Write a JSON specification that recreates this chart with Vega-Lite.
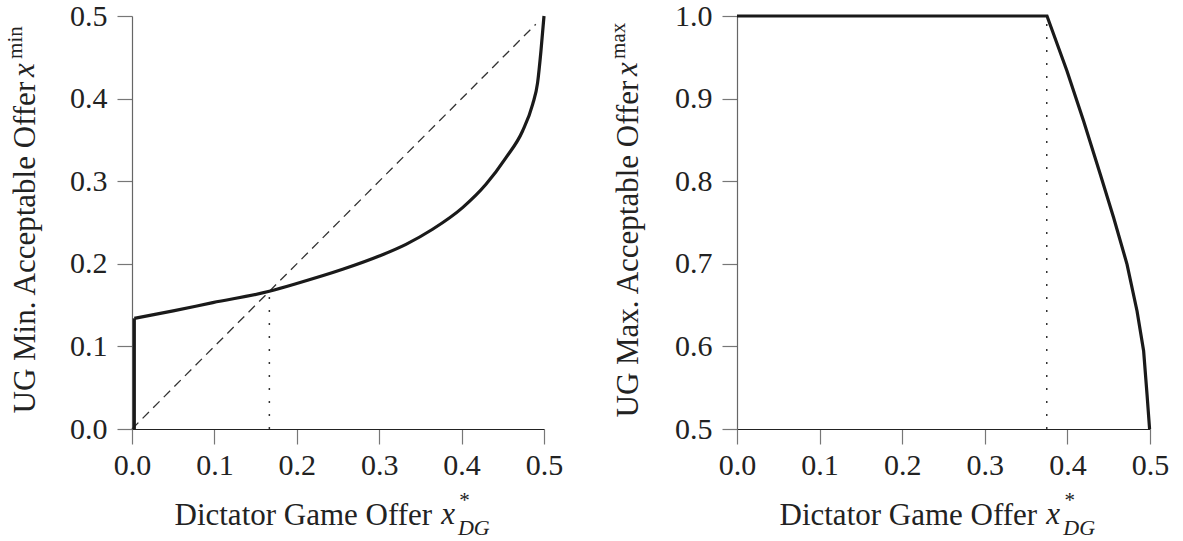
{
  "$schema": "https://vega.github.io/schema/vega-lite/v6.json",
  "background": "white",
  "padding": {"left": 5, "top": 1, "right": 0, "bottom": 0},
  "spacing": 45,
  "config": {
    "view": {"stroke": null},
    "axis": {
      "grid": false,
      "labelFont": "Liberation Serif",
      "labelFontSize": 30,
      "labelColor": "#222",
      "labelFlush": false,
      "labelOverlap": false,
      "labelBound": false,
      "titleFont": "Liberation Serif",
      "titleFontSize": 31,
      "titleFontWeight": "normal",
      "titleColor": "#222",
      "tickSize": 15,
      "tickColor": "#777",
      "tickWidth": 1.2,
      "domainWidth": 1.2
    },
    "axisX": {"labelPadding": 6, "domainColor": "#222"},
    "axisY": {"labelPadding": 10, "domainColor": "#666"}
  },
  "datasets": {
    "left_curve": [
      {"x": 0.0028, "y": 0.0, "s": "a"},
      {"x": 0.0028, "y": 0.134, "s": "a"},
      {"x": 0.0028, "y": 0.134, "s": "b"},
      {"x": 0.05, "y": 0.143, "s": "b"},
      {"x": 0.098, "y": 0.153, "s": "b"},
      {"x": 0.1667, "y": 0.1667, "s": "b"},
      {"x": 0.203, "y": 0.177, "s": "b"},
      {"x": 0.2556, "y": 0.1933, "s": "b"},
      {"x": 0.3, "y": 0.2094, "s": "b"},
      {"x": 0.3325, "y": 0.2236, "s": "b"},
      {"x": 0.3648, "y": 0.2418, "s": "b"},
      {"x": 0.4012, "y": 0.268, "s": "b"},
      {"x": 0.4296, "y": 0.2962, "s": "b"},
      {"x": 0.4539, "y": 0.3285, "s": "b"},
      {"x": 0.474, "y": 0.3608, "s": "b"},
      {"x": 0.4862, "y": 0.393, "s": "b"},
      {"x": 0.4922, "y": 0.419, "s": "b"},
      {"x": 0.4963, "y": 0.4576, "s": "b"},
      {"x": 0.5, "y": 0.5, "s": "b"}
    ],
    "left_diag": [
      {"x": 0.0, "y": 0.0},
      {"x": 0.49, "y": 0.49}
    ],
    "left_dot": [
      {"x": 0.1667, "y": 0.0},
      {"x": 0.1667, "y": 0.1667}
    ],
    "right_curve": [
      {"x": 0.0, "y": 1.0},
      {"x": 0.3753, "y": 1.0},
      {"x": 0.3995, "y": 0.9334},
      {"x": 0.4196, "y": 0.8729},
      {"x": 0.4398, "y": 0.8083},
      {"x": 0.456, "y": 0.7558},
      {"x": 0.4722, "y": 0.6994},
      {"x": 0.4843, "y": 0.6429},
      {"x": 0.4923, "y": 0.5944},
      {"x": 0.4964, "y": 0.542},
      {"x": 0.4995, "y": 0.5}
    ],
    "right_dot": [
      {"x": 0.375, "y": 0.5},
      {"x": 0.375, "y": 1.0}
    ],
    "sym_x": [{"t": "x"}],
    "sym_star": [{"t": "*"}],
    "sym_dg": [{"t": "DG"}],
    "sym_min": [{"t": "min"}],
    "sym_max": [{"t": "max"}]
  },
  "hconcat": [
    {
      "width": 412,
      "height": 413,
      "layer": [
        {
          "data": {"name": "left_diag"},
          "mark": {"type": "line", "strokeDash": [9, 6], "strokeWidth": 1.3, "color": "#333"},
          "encoding": {
            "x": {"field": "x", "type": "quantitative", "scale": {"domain": [0, 0.5]},
              "axis": {"values": [0, 0.1, 0.2, 0.3, 0.4, 0.5], "format": ".1f", "title": "Dictator Game Offer",
                "titleX": 42, "titleY": 95, "titleAlign": "left", "titleBaseline": "alphabetic"}},
            "y": {"field": "y", "type": "quantitative", "scale": {"domain": [0, 0.5]},
              "axis": {"values": [0, 0.1, 0.2, 0.3, 0.4, 0.5], "format": ".1f", "title": "UG Min. Acceptable Offer",
                "titleAngle": 270, "titleX": -98, "titleY": 397, "titleAlign": "left", "titleBaseline": "alphabetic"}}
          }
        },
        {
          "data": {"name": "left_dot"},
          "mark": {"type": "line", "strokeDash": [2, 11], "strokeWidth": 1.5, "color": "#333"},
          "encoding": {
            "x": {"field": "x", "type": "quantitative", "scale": {"domain": [0, 0.5]}},
            "y": {"field": "y", "type": "quantitative", "scale": {"domain": [0, 0.5]}}
          }
        },
        {
          "data": {"name": "left_curve"},
          "mark": {"type": "line", "strokeWidth": 3.2, "color": "#1a1a1a", "interpolate": "monotone", "strokeJoin": "miter"},
          "encoding": {
            "x": {"field": "x", "type": "quantitative", "scale": {"domain": [0, 0.5]}},
            "y": {"field": "y", "type": "quantitative", "scale": {"domain": [0, 0.5]}},
            "detail": {"field": "s", "type": "nominal"}
          }
        },
        {
          "data": {"name": "sym_x"},
          "mark": {"type": "text", "font": "Liberation Serif", "fontStyle": "italic", "fontSize": 31, "align": "left", "baseline": "alphabetic", "color": "#222"},
          "encoding": {
            "x": {"datum": 0.3754, "type": "quantitative", "scale": {"domain": [0, 0.5]}},
            "y": {"datum": -0.115, "type": "quantitative", "scale": {"domain": [0, 0.5]}},
            "text": {"field": "t"}
          }
        },
        {
          "data": {"name": "sym_star"},
          "mark": {"type": "text", "font": "Liberation Serif", "fontSize": 21, "align": "left", "baseline": "alphabetic", "color": "#222"},
          "encoding": {
            "x": {"datum": 0.3972, "type": "quantitative", "scale": {"domain": [0, 0.5]}},
            "y": {"datum": -0.094, "type": "quantitative", "scale": {"domain": [0, 0.5]}},
            "text": {"field": "t"}
          }
        },
        {
          "data": {"name": "sym_dg"},
          "mark": {"type": "text", "font": "Liberation Serif", "fontStyle": "italic", "fontSize": 22, "align": "left", "baseline": "alphabetic", "color": "#222"},
          "encoding": {
            "x": {"datum": 0.3955, "type": "quantitative", "scale": {"domain": [0, 0.5]}},
            "y": {"datum": -0.128, "type": "quantitative", "scale": {"domain": [0, 0.5]}},
            "text": {"field": "t"}
          }
        },
        {
          "data": {"name": "sym_x"},
          "mark": {"type": "text", "font": "Liberation Serif", "fontStyle": "italic", "fontSize": 31, "align": "left", "baseline": "alphabetic", "angle": 270, "color": "#222"},
          "encoding": {
            "x": {"datum": -0.1186, "type": "quantitative", "scale": {"domain": [0, 0.5]}},
            "y": {"datum": 0.4262, "type": "quantitative", "scale": {"domain": [0, 0.5]}},
            "text": {"field": "t"}
          }
        },
        {
          "data": {"name": "sym_min"},
          "mark": {"type": "text", "font": "Liberation Serif", "fontSize": 21, "align": "left", "baseline": "alphabetic", "angle": 270, "color": "#222"},
          "encoding": {
            "x": {"datum": -0.1331, "type": "quantitative", "scale": {"domain": [0, 0.5]}},
            "y": {"datum": 0.448, "type": "quantitative", "scale": {"domain": [0, 0.5]}},
            "text": {"field": "t"}
          }
        }
      ]
    },
    {
      "width": 413,
      "height": 413,
      "layer": [
        {
          "data": {"name": "right_dot"},
          "mark": {"type": "line", "strokeDash": [2, 11], "strokeWidth": 1.5, "color": "#333"},
          "encoding": {
            "x": {"field": "x", "type": "quantitative", "scale": {"domain": [0, 0.5]},
              "axis": {"values": [0, 0.1, 0.2, 0.3, 0.4, 0.5], "format": ".1f", "title": "Dictator Game Offer",
                "titleX": 42, "titleY": 95, "titleAlign": "left", "titleBaseline": "alphabetic"}},
            "y": {"field": "y", "type": "quantitative", "scale": {"domain": [0.5, 1.0], "zero": false},
              "axis": {"values": [0.5, 0.6, 0.7, 0.8, 0.9, 1.0], "format": ".1f", "title": "UG Max. Acceptable Offer",
                "titleAngle": 270, "titleX": -100, "titleY": 401, "titleAlign": "left", "titleBaseline": "alphabetic"}}
          }
        },
        {
          "data": {"name": "right_curve"},
          "mark": {"type": "line", "strokeWidth": 3.2, "color": "#1a1a1a", "strokeJoin": "miter"},
          "encoding": {
            "x": {"field": "x", "type": "quantitative", "scale": {"domain": [0, 0.5]}},
            "y": {"field": "y", "type": "quantitative", "scale": {"domain": [0.5, 1.0], "zero": false}}
          }
        },
        {
          "data": {"name": "sym_x"},
          "mark": {"type": "text", "font": "Liberation Serif", "fontStyle": "italic", "fontSize": 31, "align": "left", "baseline": "alphabetic", "color": "#222"},
          "encoding": {
            "x": {"datum": 0.3745, "type": "quantitative", "scale": {"domain": [0, 0.5]}},
            "y": {"datum": 0.385, "type": "quantitative", "scale": {"domain": [0.5, 1.0], "zero": false}},
            "text": {"field": "t"}
          }
        },
        {
          "data": {"name": "sym_star"},
          "mark": {"type": "text", "font": "Liberation Serif", "fontSize": 21, "align": "left", "baseline": "alphabetic", "color": "#222"},
          "encoding": {
            "x": {"datum": 0.3965, "type": "quantitative", "scale": {"domain": [0, 0.5]}},
            "y": {"datum": 0.406, "type": "quantitative", "scale": {"domain": [0.5, 1.0], "zero": false}},
            "text": {"field": "t"}
          }
        },
        {
          "data": {"name": "sym_dg"},
          "mark": {"type": "text", "font": "Liberation Serif", "fontStyle": "italic", "fontSize": 22, "align": "left", "baseline": "alphabetic", "color": "#222"},
          "encoding": {
            "x": {"datum": 0.395, "type": "quantitative", "scale": {"domain": [0, 0.5]}},
            "y": {"datum": 0.372, "type": "quantitative", "scale": {"domain": [0.5, 1.0], "zero": false}},
            "text": {"field": "t"}
          }
        },
        {
          "data": {"name": "sym_x"},
          "mark": {"type": "text", "font": "Liberation Serif", "fontStyle": "italic", "fontSize": 31, "align": "left", "baseline": "alphabetic", "angle": 270, "color": "#222"},
          "encoding": {
            "x": {"datum": -0.1207, "type": "quantitative", "scale": {"domain": [0, 0.5]}},
            "y": {"datum": 0.9274, "type": "quantitative", "scale": {"domain": [0.5, 1.0], "zero": false}},
            "text": {"field": "t"}
          }
        },
        {
          "data": {"name": "sym_max"},
          "mark": {"type": "text", "font": "Liberation Serif", "fontSize": 21, "align": "left", "baseline": "alphabetic", "angle": 270, "color": "#222"},
          "encoding": {
            "x": {"datum": -0.1353, "type": "quantitative", "scale": {"domain": [0, 0.5]}},
            "y": {"datum": 0.948, "type": "quantitative", "scale": {"domain": [0.5, 1.0], "zero": false}},
            "text": {"field": "t"}
          }
        }
      ]
    }
  ]
}
